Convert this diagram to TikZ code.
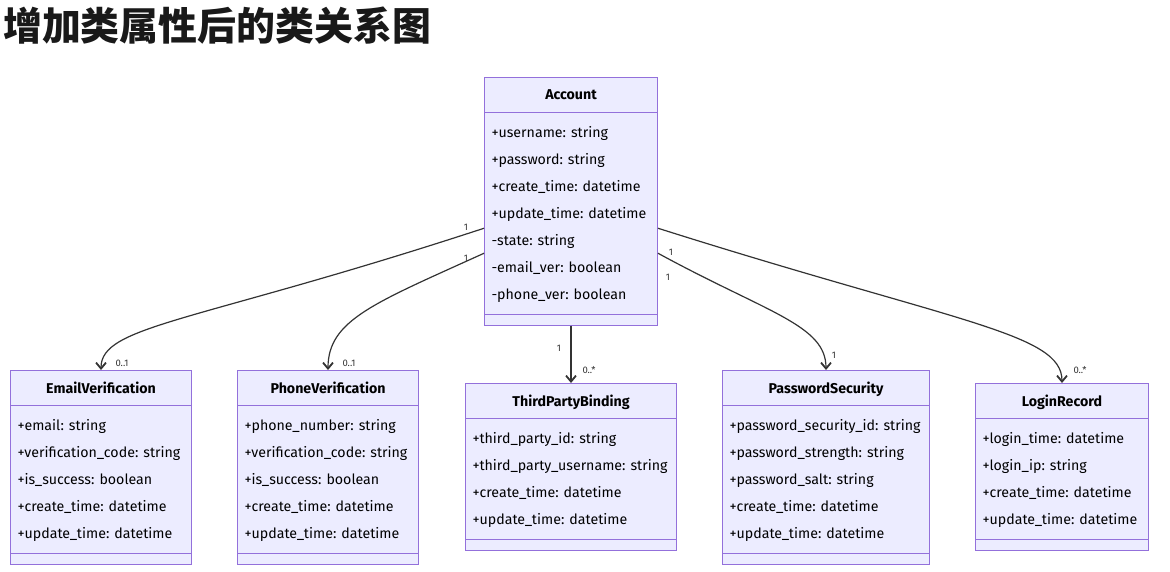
\documentclass[tikz,border=0pt]{standalone}
\usepackage{fontspec}
\setmainfont{Fira Sans}
\newfontfamily\cjkfont{Noto Sans CJK SC}
\usetikzlibrary{arrows.meta,shapes.multipart}

\definecolor{umlfill}{HTML}{ECECFF}
\definecolor{umlborder}{HTML}{9370DB}
\definecolor{edgecol}{HTML}{333333}

% struts for the class compartments
\newcommand{\headstrut}{\rule[-6.5pt]{0pt}{23pt}}
\newcommand{\firstattr}{\rule{0pt}{18.5pt}}
\newcommand{\lastattr}{\rule[-20pt]{0pt}{20pt}}

\begin{document}
\begin{tikzpicture}[
  x=1pt, y=-1pt,
  classbox/.style={
    rectangle split,
    rectangle split parts=2,
    rectangle split part align={center,left},
    draw=umlborder,
    fill=umlfill,
    line width=1pt,
    inner xsep=7pt,
    inner ysep=5.5pt,
    align=left,
    anchor=north west,
    text=black,
    font=\fontsize{14.2}{27}\selectfont,
    path picture={
      \draw[umlborder, line width=1pt]
        ([yshift=11pt]path picture bounding box.south west)
        -- ([yshift=11pt]path picture bounding box.south east);
    }
  },
  assoc/.style={
    draw=edgecol,
    line width=1.2pt,
    -{Straight Barb[length=6pt,width=10pt,line width=1.8pt]}
  },
  mult/.style={
    font=\fontsize{9.5}{10}\selectfont,
    text=edgecol,
    inner sep=1pt
  }
]
\useasboundingbox (0,0) rectangle (1170,572);

\node[anchor=west, inner sep=0pt, font=\cjkfont\bfseries\fontsize{38.9}{40}\selectfont,
  text=black!90] (title) at (3,26) {增加类属性后的类关系图};

% Classes
\node[classbox, minimum width=173pt] (account) at (484,77) {
  \headstrut\bfseries Account
  \nodepart{two}
  \firstattr+username: string\\
  +password: string\\
  +create\_time: datetime\\
  +update\_time: datetime\\
  -state: string\\
  -email\_ver: boolean\\
  -phone\_ver: boolean\lastattr};

\node[classbox, minimum width=181pt] (email) at (10,370) {
  \headstrut\bfseries EmailVerification
  \nodepart{two}
  \firstattr+email: string\\
  +verification\_code: string\\
  +is\_success: boolean\\
  +create\_time: datetime\\
  +update\_time: datetime\lastattr};

\node[classbox, minimum width=181pt] (phone) at (237,370) {
  \headstrut\bfseries PhoneVerification
  \nodepart{two}
  \firstattr+phone\_number: string\\
  +verification\_code: string\\
  +is\_success: boolean\\
  +create\_time: datetime\\
  +update\_time: datetime\lastattr};

\node[classbox, minimum width=211pt] (binding) at (465,383) {
  \headstrut\bfseries ThirdPartyBinding
  \nodepart{two}
  \firstattr+third\_party\_id: string\\
  +third\_party\_username: string\\
  +create\_time: datetime\\
  +update\_time: datetime\lastattr};

\node[classbox, minimum width=207pt] (pwsec) at (722,370) {
  \headstrut\bfseries PasswordSecurity
  \nodepart{two}
  \firstattr+password\_security\_id: string\\
  +password\_strength: string\\
  +password\_salt: string\\
  +create\_time: datetime\\
  +update\_time: datetime\lastattr};

\node[classbox, minimum width=173pt] (login) at (975,383) {
  \headstrut\bfseries LoginRecord
  \nodepart{two}
  \firstattr+login\_time: datetime\\
  +login\_ip: string\\
  +create\_time: datetime\\
  +update\_time: datetime\lastattr};

% Associations
\draw[assoc] ([yshift=-27pt]account.west) .. controls +(-290,95) and +(0,-45) .. (email.north)
  node[mult, at start, xshift=-18pt, yshift=1pt] {1}
  node[mult, at end, xshift=21pt, yshift=7pt] {0..1};
\draw[assoc] ([yshift=-52pt]account.west) .. controls +(-110,50) and +(0,-50) .. (phone.north)
  node[mult, at start, xshift=-18pt, yshift=-5pt] {1}
  node[mult, at end, xshift=21pt, yshift=7pt] {0..1};
\draw[assoc] (account.south) -- (binding.north)
  node[mult, at start, xshift=-12pt, yshift=-23pt] {1}
  node[mult, at end, xshift=18pt, yshift=13pt] {0..*};
\draw[assoc] ([yshift=-52pt]account.east) .. controls +(110,60) and +(0,-45) .. (pwsec.north)
  node[mult, at start, xshift=10pt, yshift=-24pt] {1}
  node[mult, at end, xshift=8pt, yshift=15pt] {1};
\draw[assoc] ([yshift=-27pt]account.east) .. controls +(300,95) and +(0,-50) .. (login.north)
  node[mult, at start, xshift=13pt, yshift=-24pt] {1}
  node[mult, at end, xshift=18pt, yshift=13pt] {0..*};

\end{tikzpicture}
\end{document}
